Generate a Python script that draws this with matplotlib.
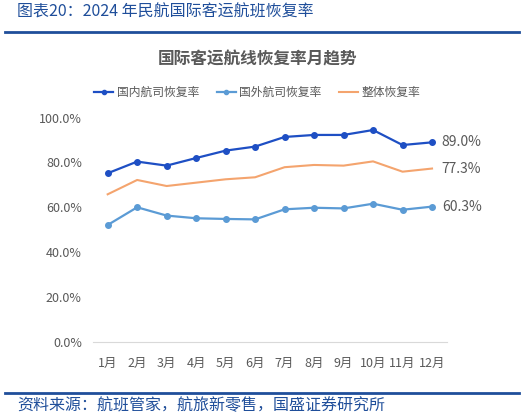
import matplotlib
matplotlib.use("Agg")
import matplotlib.pyplot as plt
from matplotlib.lines import Line2D

plt.rcParams['font.family'] = ['Noto Sans CJK SC', 'DejaVu Sans']

months = ['1月', '2月', '3月', '4月', '5月', '6月', '7月', '8月', '9月', '10月', '11月', '12月']
domestic = [75.2, 80.4, 78.6, 82.0, 85.3, 87.1, 91.4, 92.3, 92.3, 94.5, 87.8, 89.0]
foreign = [52.1, 60.0, 56.3, 55.1, 54.8, 54.6, 59.1, 59.8, 59.5, 61.6, 58.9, 60.3]
overall = [65.8, 72.2, 69.5, 71.0, 72.5, 73.4, 77.9, 78.9, 78.6, 80.5, 75.9, 77.3]
yticks = [0, 20, 40, 60, 80, 100]

c_dom = '#1E4FC4'
c_for = '#5B9BD5'
c_all = '#F4A46E'
c_txt = '#595959'
c_blue = '#1F4E9A'

fig = plt.figure(figsize=(5.25, 4.19), dpi=100)
ax = fig.add_axes([0.177, 0.1845, 0.674, 0.5346])

x = list(range(len(months)))
ax.plot(x, domestic, color=c_dom, lw=1.6, marker='o', ms=4, label='国内航司恢复率')
ax.plot(x, foreign, color=c_for, lw=1.6, marker='o', ms=4, label='国外航司恢复率')
ax.plot(x, overall, color=c_all, lw=1.5, label='整体恢复率')

# 末端数据标签
for vals in [domestic, overall, foreign]:
    ax.annotate(f'{vals[-1]:.1f}%', (x[-1], vals[-1]), xytext=(7, 0),
                textcoords='offset points', va='center', ha='left',
                fontsize=10, color=c_txt)

ax.set_xlim(-0.5, len(months) - 0.5)
ax.set_ylim(0, 100)
ax.set_yticks(yticks)
ax.set_yticklabels([f'{v:.1f}%' for v in yticks])
ax.set_xticks(x)
ax.set_xticklabels(months)
ax.tick_params(axis='both', length=0, labelsize=9, colors=c_txt)
ax.tick_params(axis='y', pad=8)
ax.tick_params(axis='x', pad=11)
for s in ['top', 'right', 'left']:
    ax.spines[s].set_visible(False)
ax.spines['bottom'].set_color('#D9D9D9')

fig.text(0.491, 0.859, '国际客运航线恢复率月趋势', ha='center', va='center',
         fontsize=12, fontweight='bold', color=c_txt)

handles = [Line2D([], [], color=c_dom, lw=1.6, marker='o', ms=3),
           Line2D([], [], color=c_for, lw=1.6, marker='o', ms=3),
           Line2D([], [], color=c_all, lw=1.5)]
fig.legend(handles, ['国内航司恢复率', '国外航司恢复率', '整体恢复率'],
           loc='center', bbox_to_anchor=(0.49, 0.78), ncol=3, frameon=False,
           fontsize=8.5, labelcolor=c_txt, handlelength=1.6, handletextpad=0.3,
           columnspacing=1.5)

# 页眉与页脚
fig.text(0.032, 0.972, '图表20：2024 年民航国际客运航班恢复率', ha='left', va='center',
         fontsize=11.5, color=c_blue, style='italic')
fig.add_artist(Line2D([0.01, 0.988], [0.924, 0.924], color=c_blue, lw=2))
fig.add_artist(Line2D([0.01, 0.988], [0.062, 0.062], color=c_blue, lw=2))
fig.text(0.032, 0.033, '资料来源：航班管家，航旅新零售，国盛证券研究所', ha='left', va='center',
         fontsize=11.5, color=c_blue, style='italic')

fig.savefig('out.png', dpi=100)
